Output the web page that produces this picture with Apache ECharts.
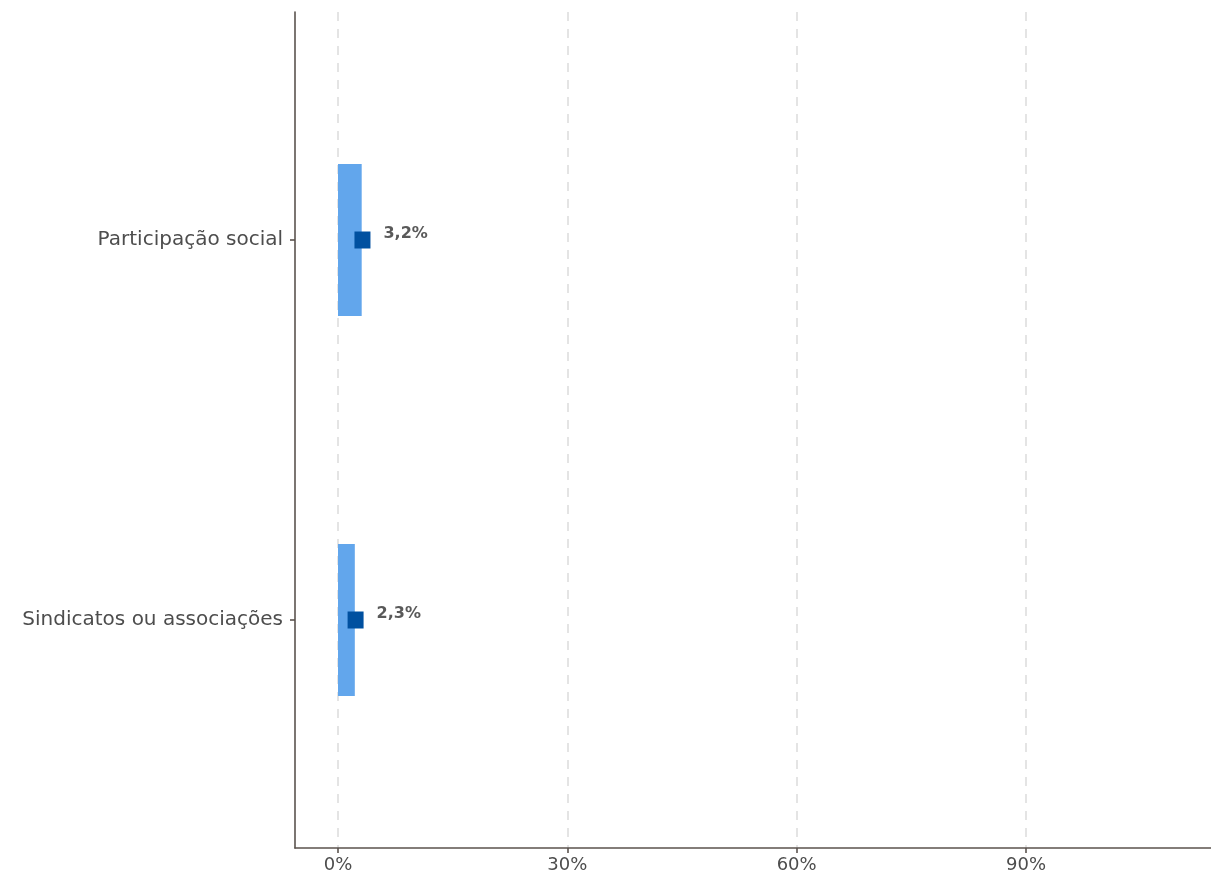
<!DOCTYPE html>
<html>
<head>
<meta charset="utf-8">
<script src="https://cdn.jsdelivr.net/npm/echarts@6/dist/echarts.min.js"></script>
<style>
html,body{margin:0;padding:0;background:#fff;}
#chart{width:1211px;height:878px;}
</style>
</head>
<body>
<div id="chart"></div>
<script>
const categories = ["Participação social", "Sindicatos ou associações"];
const barValues = [3.1, 2.2];
const pointValues = [3.2, 2.3];
const pointLabels = ["3,2%", "2,3%"];
const xTicks = [0, 30, 60, 90];

const chart = echarts.init(document.getElementById('chart'));
const FONT = 'DejaVu Sans';

const barData = barValues.map((v, i) => [v, i + 1]);
const pointData = pointValues.map((v, i) => [v, i + 1]);

chart.setOption({
  animation: false,
  grid: { left: 295, right: 0, top: 12, bottom: 30, containLabel: false },
  xAxis: {
    type: 'value',
    min: -5.625,
    max: 114.2,
    axisLine: { show: true, onZero: false, lineStyle: { color: '#5b534e', width: 1.6 } },
    axisTick: { show: true, customValues: xTicks, length: 5, lineStyle: { color: '#5b534e', width: 1.6 } },
    axisLabel: {
      customValues: xTicks,
      formatter: v => v + '%',
      color: '#4d4d4d', fontFamily: FONT, fontSize: 18, margin: 8
    },
    splitLine: { show: true, lineStyle: { color: '#dcdcdc', type: [9, 8], width: 1.5 } }
  },
  yAxis: {
    type: 'value',
    min: 0.4,
    max: 2.6,
    inverse: true,
    axisLine: { show: true, onZero: false, lineStyle: { color: '#5b534e', width: 1.6 } },
    axisTick: { show: true, customValues: [1, 2], length: 5, lineStyle: { color: '#5b534e', width: 1.6 } },
    axisLabel: {
      customValues: [1, 2],
      formatter: v => categories[Math.round(v) - 1] || '',
      color: '#4d4d4d', fontFamily: FONT, fontSize: 20, margin: 12
    },
    splitLine: { show: false }
  },
  series: [
    {
      type: 'custom',
      data: barData,
      renderItem: function (params, api) {
        const v = api.value(0), y = api.value(1);
        const p0 = api.coord([0, y - 0.2]);
        const p1 = api.coord([v, y + 0.2]);
        return {
          type: 'rect',
          shape: { x: p0[0], y: Math.min(p0[1], p1[1]), width: p1[0] - p0[0], height: Math.abs(p1[1] - p0[1]) },
          style: { fill: '#62a6ec' }
        };
      },
      z: 2
    },
    {
      type: 'scatter',
      data: pointData,
      symbol: 'rect',
      symbolSize: [16, 17],
      itemStyle: { color: '#0050a0', opacity: 1 },
      label: {
        show: true,
        position: 'right',
        distance: 13,
        offset: [0, -6],
        formatter: p => pointLabels[p.dataIndex],
        color: '#595959', fontFamily: FONT, fontWeight: 'bold', fontSize: 16
      },
      z: 3
    }
  ]
});
</script>
</body>
</html>
